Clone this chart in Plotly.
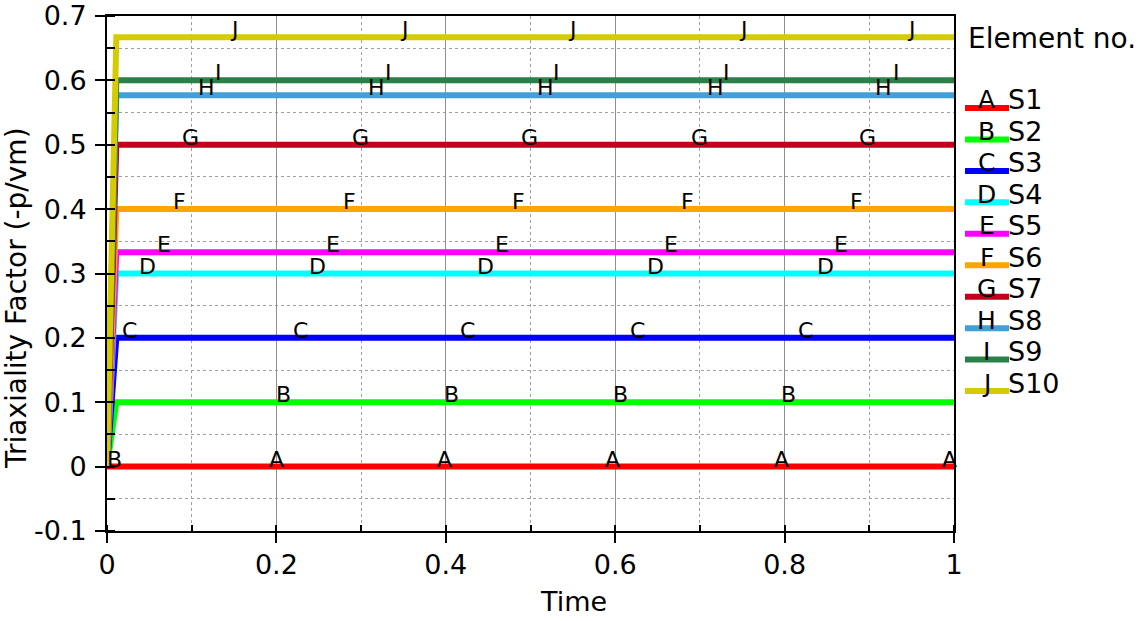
import plotly.graph_objects as go

# Series definitions: each element ramps from 0 to a constant triaxiality level
names = ["S1", "S2", "S3", "S4", "S5", "S6", "S7", "S8", "S9", "S10"]
letters = ["A", "B", "C", "D", "E", "F", "G", "H", "I", "J"]
levels = [0.0, 0.1, 0.2, 0.3, 0.333, 0.4, 0.5, 0.577, 0.6, 0.667]
colors = ["#ff0000", "#00ff00", "#0000ff", "#00ffff", "#ff00ff",
          "#ffa500", "#c4001c", "#40a0d8", "#2a8048", "#d4cc00"]
time = [0.0, 0.011, 1.0]

# Curve-letter positions along the time axis
label_x = {
    "A": [0.200, 0.399, 0.597, 0.796, 0.995],
    "B": [0.009, 0.208, 0.407, 0.606, 0.805, 1.005],
    "C": [0.027, 0.228, 0.426, 0.626, 0.825],
    "D": [0.048, 0.248, 0.447, 0.647, 0.848],
    "E": [0.067, 0.267, 0.466, 0.666, 0.867],
    "F": [0.086, 0.286, 0.486, 0.685, 0.885],
    "G": [0.099, 0.299, 0.499, 0.699, 0.898],
    "H": [0.118, 0.318, 0.518, 0.718, 0.917],
    "I": [0.132, 0.332, 0.531, 0.731, 0.932],
    "J": [0.151, 0.351, 0.550, 0.751, 0.950],
}
# B's first letter sits at the origin of the ramp
label_y_override = {("B", 0): 0.0}

x_ticks = [0, 0.2, 0.4, 0.6, 0.8, 1.0]
x_tick_text = ["0", "0.2", "0.4", "0.6", "0.8", "1"]
y_ticks = [-0.1, 0, 0.1, 0.2, 0.3, 0.4, 0.5, 0.6, 0.7]
y_tick_text = ["-0.1", "0", "0.1", "0.2", "0.3", "0.4", "0.5", "0.6", "0.7"]

W, H = 1137, 621
ML, MR, MT, MB = 107, 183, 16, 90
PW, PH = W - ML - MR, H - MT - MB
FONT = "DejaVu Sans"


def px_x(px):
    return (px - ML) / PW


def px_y(py):
    return (H - MB - py) / PH


fig = go.Figure()
for name, lv, col in zip(names, levels, colors):
    fig.add_trace(go.Scatter(
        x=time, y=[0.0, lv, lv], mode="lines", name=name,
        line=dict(color=col, width=6), showlegend=False,
    ))

annotations = []
for i, (let, lv) in enumerate(zip(letters, levels)):
    for k, xv in enumerate(label_x[let]):
        yv = label_y_override.get((let, k), lv)
        annotations.append(dict(
            x=xv, y=yv, xref="x", yref="y", text=let, showarrow=False,
            xanchor="center", yanchor="bottom", yshift=-7,
            font=dict(family=FONT, size=22, color="black"),
        ))

# Legend block on the right
annotations.append(dict(
    x=px_x(966), y=px_y(38), xref="paper", yref="paper", text="Element no.",
    showarrow=False, xanchor="left", yanchor="middle",
    font=dict(family=FONT, size=28, color="black"),
))
shapes = []
for i, (let, name, col) in enumerate(zip(letters, names, colors)):
    ly = 108 + 31.45 * i
    shapes.append(dict(
        type="line", xref="paper", yref="paper",
        x0=px_x(965), x1=px_x(1009), y0=px_y(ly), y1=px_y(ly),
        line=dict(color=col, width=6),
    ))
    annotations.append(dict(
        x=px_x(987), y=px_y(ly - 8), xref="paper", yref="paper", text=let,
        showarrow=False, xanchor="center", yanchor="middle",
        font=dict(family=FONT, size=25, color="black"),
    ))
    annotations.append(dict(
        x=px_x(1006), y=px_y(ly - 8), xref="paper", yref="paper", text=name,
        showarrow=False, xanchor="left", yanchor="middle",
        font=dict(family=FONT, size=27, color="black"),
    ))

# Axis titles
annotations.append(dict(
    x=px_x(573), y=px_y(601), xref="paper", yref="paper", text="Time",
    showarrow=False, xanchor="center", yanchor="middle",
    font=dict(family=FONT, size=27, color="black"),
))
annotations.append(dict(
    x=px_x(17), y=px_y(298), xref="paper", yref="paper",
    text="Triaxiality Factor (-p/vm)", textangle=-90,
    showarrow=False, xanchor="center", yanchor="middle",
    font=dict(family=FONT, size=28, color="black"),
))

axis_common = dict(
    showline=True, linecolor="black", linewidth=2, mirror=True,
    ticks="outside", ticklen=10, tickwidth=1.5, tickcolor="black",
    showgrid=True, gridcolor="#909090", gridwidth=1,
    zeroline=False, automargin=False,
    tickfont=dict(family=FONT, size=27, color="black"),
)

fig.update_layout(
    width=W, height=H,
    margin=dict(l=ML, r=MR, t=MT, b=MB),
    plot_bgcolor="white", paper_bgcolor="white",
    annotations=annotations, shapes=shapes,
    xaxis=dict(
        range=[0, 1], tickvals=x_ticks, ticktext=x_tick_text,
        ticklabelstandoff=-1,
        minor=dict(dtick=0.1, showgrid=True, griddash="dot",
                   gridcolor="#a0a0a0", gridwidth=1,
                   ticks="inside", ticklen=6, tickcolor="black"),
        **axis_common,
    ),
    yaxis=dict(
        range=[-0.1, 0.7], tickvals=y_ticks, ticktext=y_tick_text,
        ticklabelstandoff=3,
        minor=dict(dtick=0.05, showgrid=True, griddash="dot",
                   gridcolor="#a0a0a0", gridwidth=1,
                   ticks="inside", ticklen=8, tickcolor="black"),
        **axis_common,
    ),
)

fig.write_html("out.html")
